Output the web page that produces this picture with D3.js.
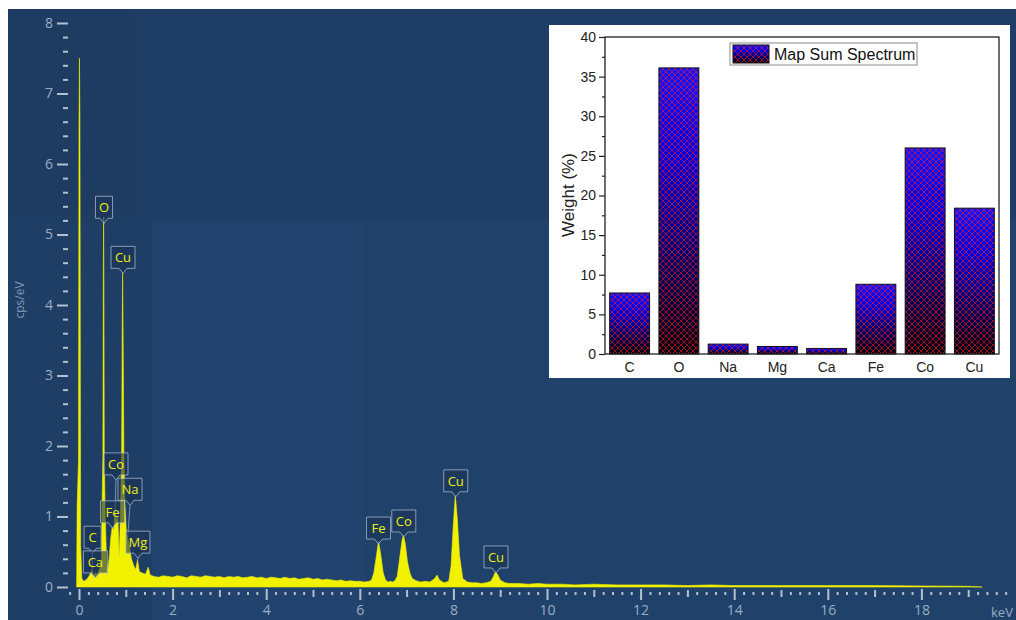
<!DOCTYPE html>
<html>
<head>
<meta charset="utf-8">
<script src="https://cdn.jsdelivr.net/npm/d3@7"></script>
<style>
  body { margin: 0; background: #fff; }
  svg { display: block; }
</style>
</head>
<body>
<svg id="chart" width="1016" height="620"></svg>
<script>
// EDS spectrum: [keV, cps/eV]
const spectrum = [
  [-0.05, 0], [-0.04, 1.15], [-0.01, 1.8], [0.0, 6.6], [0.01, 7.5], [0.02, 6.6], [0.035, 0.6],
  [0.06, 0.12], [0.1, 0.08], [0.15, 0.1], [0.2, 0.14], [0.25, 0.2], [0.28, 0.24], [0.31, 0.15],
  [0.35, 0.2], [0.4, 0.18], [0.45, 0.28], [0.48, 0.4], [0.49, 1.1], [0.51, 1.85], [0.52, 4.4],
  [0.526, 5.25], [0.532, 4.4], [0.54, 1.85], [0.56, 1.0], [0.59, 0.35], [0.62, 0.25], [0.65, 0.45],
  [0.68, 0.7], [0.71, 0.85], [0.74, 0.8], [0.77, 1.05], [0.8, 0.95], [0.83, 1.0], [0.86, 0.4],
  [0.88, 0.9], [0.91, 1.8], [0.925, 3.85], [0.932, 4.45], [0.94, 3.85], [0.96, 1.8], [0.98, 1.2],
  [1.01, 0.8], [1.04, 0.7], [1.08, 0.57], [1.12, 0.4], [1.17, 0.3], [1.21, 0.25], [1.25, 0.38],
  [1.29, 0.22], [1.35, 0.2], [1.42, 0.18], [1.48, 0.28], [1.52, 0.17], [1.6, 0.15], [1.7, 0.14],
  [1.8, 0.16], [1.9, 0.15], [2.0, 0.14], [2.1, 0.16], [2.2, 0.15], [2.3, 0.13], [2.4, 0.16],
  [2.5, 0.15], [2.6, 0.14], [2.7, 0.16], [2.8, 0.15], [2.9, 0.14], [3.0, 0.15], [3.1, 0.13],
  [3.2, 0.15], [3.3, 0.14], [3.4, 0.15], [3.5, 0.13], [3.6, 0.14], [3.7, 0.15], [3.8, 0.13],
  [3.9, 0.14], [4.0, 0.12], [4.1, 0.14], [4.2, 0.13], [4.3, 0.12], [4.4, 0.14], [4.5, 0.12],
  [4.6, 0.13], [4.7, 0.11], [4.8, 0.12], [4.9, 0.13], [5.0, 0.11], [5.1, 0.12], [5.2, 0.10],
  [5.3, 0.11], [5.4, 0.10], [5.5, 0.09], [5.6, 0.10], [5.7, 0.08], [5.8, 0.09], [5.9, 0.08],
  [6.0, 0.08], [6.1, 0.07], [6.2, 0.08], [6.25, 0.1], [6.3, 0.2], [6.35, 0.42], [6.4, 0.65],
  [6.45, 0.45], [6.5, 0.2], [6.55, 0.1], [6.6, 0.07], [6.65, 0.08], [6.7, 0.07], [6.75, 0.09],
  [6.8, 0.15], [6.85, 0.4], [6.9, 0.65], [6.93, 0.74], [6.97, 0.62], [7.02, 0.35], [7.07, 0.2],
  [7.12, 0.12], [7.2, 0.09], [7.3, 0.07], [7.4, 0.08], [7.5, 0.07], [7.6, 0.12], [7.65, 0.17],
  [7.7, 0.1], [7.8, 0.06], [7.9, 0.08], [7.95, 0.3], [8.0, 0.9], [8.04, 1.3], [8.08, 1.0],
  [8.13, 0.45], [8.2, 0.12], [8.3, 0.07], [8.4, 0.06], [8.5, 0.06], [8.6, 0.05], [8.7, 0.06],
  [8.8, 0.08], [8.85, 0.14], [8.9, 0.22], [8.95, 0.17], [9.0, 0.1], [9.1, 0.06], [9.2, 0.05],
  [9.4, 0.05], [9.6, 0.04], [9.8, 0.05], [10.0, 0.04], [10.3, 0.04], [10.6, 0.03], [11.0, 0.04],
  [11.5, 0.03], [12.0, 0.03], [12.5, 0.03], [13.0, 0.02], [13.5, 0.03], [14.0, 0.02], [15.0, 0.02],
  [16.0, 0.02], [17.0, 0.02], [18.0, 0.015], [19.0, 0.01], [19.3, 0]
];

// peak labels: element, peak keV, peak height, label keV, label bottom (cps/eV)
const peakNames  = ['O', 'Cu', 'Co', 'Na', 'Fe', 'C', 'Ca', 'Mg', 'Fe', 'Co', 'Cu', 'Cu'];
const peakKeV    = [0.526, 0.932, 0.77, 1.04, 0.71, 0.28, 0.35, 1.25, 6.4, 6.93, 8.04, 8.9];
const peakTop    = [5.25, 4.45, 1.05, 0.7, 0.85, 0.24, 0.2, 0.38, 0.65, 0.74, 1.3, 0.22];
const labelKeV   = [0.534, 0.94, 0.79, 1.09, 0.716, 0.29, 0.35, 1.26, 6.4, 6.94, 8.05, 8.91];
const labelBase  = [5.23, 4.52, 1.59, 1.23, 0.91, 0.55, 0.2, 0.48, 0.68, 0.78, 1.35, 0.27];

// inset bar chart
const elements = ['C', 'O', 'Na', 'Mg', 'Ca', 'Fe', 'Co', 'Cu'];
const weights  = [7.7, 36.1, 1.25, 0.95, 0.7, 8.8, 26.0, 18.4];
const weightTicks = [0, 5, 10, 15, 20, 25, 30, 35, 40];

const svg = d3.select('#chart');
const mainFont = '"Open Sans", "Noto Sans", sans-serif';
const insetFont = '"Liberation Sans", Arial, sans-serif';

// background panel
svg.append('rect').attr('x', 8).attr('y', 9).attr('width', 1008).attr('height', 611).attr('fill', '#1f3e65');
svg.append('rect').attr('x', 152).attr('y', 221).attr('width', 213).attr('height', 399).attr('fill', '#21436d');
svg.append('rect').attr('x', 365).attr('y', 221).attr('width', 651).attr('height', 399).attr('fill', '#20416a');
svg.append('rect').attr('x', 8).attr('y', 9).attr('width', 127).attr('height', 206).attr('fill', '#1e3c62');

let x = d3.scaleLinear().domain([0, 20]).range([79, 1015]);
let y = d3.scaleLinear().domain([0, 8]).range([587, 23]);

// y axis
let yTickVals = d3.range(0, 41).map(i => i / 5);
let yAxis = d3.axisLeft(y)
  .tickValues(yTickVals)
  .tickSize(0)
  .tickFormat(d => Number.isInteger(d) ? d : '');

let yg = svg.append('g').attr('transform', 'translate(68,0)').call(yAxis);
yg.select('.domain').remove();
yg.selectAll('.tick line')
  .attr('x1', 0)
  .attr('x2', d => Number.isInteger(d) ? -11 : -5)
  .attr('stroke', '#b3c0ce')
  .attr('stroke-width', 2);
yg.selectAll('.tick text')
  .attr('x', -15)
  .attr('fill', '#9aaec5')
  .style('font-family', mainFont)
  .style('font-size', '14px');

svg.append('text')
  .attr('transform', 'translate(24,300) rotate(-90)')
  .attr('text-anchor', 'middle')
  .attr('fill', '#8398b2')
  .style('font-family', mainFont)
  .style('font-size', '12px')
  .text('cps/eV');

// x axis: minor every 0.2, medium every 1, major every 2
let xTickVals = d3.range(-1, 100).map(i => i / 5);
let xAxis = d3.axisBottom(x)
  .tickValues(xTickVals)
  .tickSize(0)
  .tickFormat(d => (Number.isInteger(d) && d % 2 === 0 && d >= 0) ? d : '');

let xg = svg.append('g').attr('transform', 'translate(0,589)').call(xAxis);
xg.select('.domain').remove();
xg.selectAll('.tick line')
  .attr('y1', d => Number.isInteger(d) ? (d % 2 === 0 ? 0 : 1) : 3)
  .attr('y2', d => Number.isInteger(d) ? (d % 2 === 0 ? 11 : 8) : 6)
  .attr('stroke', '#b3c0ce')
  .attr('stroke-width', 2);
xg.selectAll('.tick text')
  .attr('y', 16)
  .attr('fill', '#9aaec5')
  .style('font-family', mainFont)
  .style('font-size', '14px');

svg.append('text')
  .attr('x', 991).attr('y', 617)
  .attr('fill', '#9aaec5')
  .style('font-family', mainFont)
  .style('font-size', '13px')
  .text('keV');

// spectrum
let area = d3.area()
  .x(d => x(d[0]))
  .y0(y(0))
  .y1(d => y(d[1]));

svg.append('path')
  .datum(spectrum)
  .attr('fill', '#f2f200')
  .attr('stroke', '#f2f200')
  .attr('stroke-width', 0.6)
  .attr('d', area);

// peak labels
let labels = peakNames.map((n, i) => ({
  name: n, e: peakKeV[i], top: peakTop[i], lx: labelKeV[i], lb: labelBase[i]
}));

let lab = svg.append('g').selectAll('g').data(labels).join('g');

lab.append('line')
  .attr('x1', d => x(d.lx))
  .attr('y1', d => y(d.lb) + 5)
  .attr('x2', d => x(d.e))
  .attr('y2', d => y(d.top))
  .attr('stroke', 'rgba(175,190,205,0.65)')
  .attr('stroke-width', 1);

lab.append('path')
  .attr('d', d => {
    let w = d.name.length > 1 ? 24 : 17;
    let cx = x(d.lx), b = y(d.lb);
    let l = cx - w / 2, r = cx + w / 2, t = b - 22;
    return `M${l},${t} H${r} V${b} H${cx + 4} L${cx},${b + 5} L${cx - 4},${b} H${l} Z`;
  })
  .attr('fill', 'rgba(28,52,86,0.6)')
  .attr('stroke', 'rgba(170,188,208,0.75)')
  .attr('stroke-width', 1)
  .attr('stroke-linejoin', 'round');

lab.append('text')
  .attr('x', d => x(d.lx))
  .attr('y', d => y(d.lb) - 6)
  .attr('text-anchor', 'middle')
  .attr('fill', '#eeee10')
  .style('font-family', mainFont)
  .style('font-size', '13px')
  .text(d => d.name);

// ---- inset bar chart ----
let defs = svg.append('defs');
let grad = defs.append('linearGradient').attr('id', 'barGrad')
  .attr('x1', 0).attr('y1', 0).attr('x2', 0).attr('y2', 1);
grad.append('stop').attr('offset', '0%').attr('stop-color', '#1414ff');
grad.append('stop').attr('offset', '30%').attr('stop-color', '#0000e6');
grad.append('stop').attr('offset', '70%').attr('stop-color', '#000060');
grad.append('stop').attr('offset', '100%').attr('stop-color', '#08000c');

let hatch = defs.append('pattern').attr('id', 'hatch')
  .attr('patternUnits', 'userSpaceOnUse')
  .attr('width', 6).attr('height', 6);
hatch.append('path')
  .attr('d', 'M0,0 L6,6 M6,0 L0,6')
  .attr('stroke', '#ff1a1a')
  .attr('stroke-width', 0.7)
  .attr('opacity', 0.85);

svg.append('rect')
  .attr('x', 549).attr('y', 25).attr('width', 461).attr('height', 353)
  .attr('fill', '#ffffff');

let xb = d3.scaleBand().domain(elements).range([605, 999]).paddingInner(0.19).paddingOuter(0.095);
let yb = d3.scaleLinear().domain([0, 40]).range([354, 37]);

let bars = svg.append('g').selectAll('g').data(elements).join('g');
bars.append('rect')
  .attr('x', d => xb(d))
  .attr('y', (d, i) => yb(weights[i]))
  .attr('width', xb.bandwidth())
  .attr('height', (d, i) => yb(0) - yb(weights[i]))
  .attr('fill', 'url(#barGrad)');
bars.append('rect')
  .attr('x', d => xb(d))
  .attr('y', (d, i) => yb(weights[i]))
  .attr('width', xb.bandwidth())
  .attr('height', (d, i) => yb(0) - yb(weights[i]))
  .attr('fill', 'url(#hatch)')
  .attr('stroke', '#111')
  .attr('stroke-width', 1);

// frame
svg.append('rect')
  .attr('x', 605).attr('y', 37).attr('width', 394).attr('height', 317)
  .attr('fill', 'none').attr('stroke', '#222').attr('stroke-width', 1.3);

let ybAxis = d3.axisLeft(yb)
  .tickValues(d3.range(0, 41, 2.5))
  .tickSize(0)
  .tickFormat(d => weightTicks.includes(d) ? d : '');
let ybg = svg.append('g').attr('transform', 'translate(605,0)').call(ybAxis);
ybg.select('.domain').remove();
ybg.selectAll('.tick line')
  .attr('x2', d => weightTicks.includes(d) ? -6 : -3)
  .attr('stroke', '#222').attr('stroke-width', 1.2);
ybg.selectAll('.tick text')
  .attr('x', -9)
  .attr('fill', '#222')
  .style('font-family', insetFont)
  .style('font-size', '14px');

let xbAxis = d3.axisBottom(xb).tickSize(0);
let xbg = svg.append('g').attr('transform', 'translate(0,354)').call(xbAxis);
xbg.select('.domain').remove();
xbg.selectAll('.tick text')
  .attr('y', 8)
  .attr('fill', '#222')
  .style('font-family', insetFont)
  .style('font-size', '14px');

svg.append('text')
  .attr('transform', 'translate(574,195) rotate(-90)')
  .attr('text-anchor', 'middle')
  .attr('fill', '#222')
  .style('font-family', insetFont)
  .style('font-size', '17px')
  .text('Weight (%)');

// legend
svg.append('rect')
  .attr('x', 730).attr('y', 43).attr('width', 187).attr('height', 22)
  .attr('fill', '#fff').attr('stroke', '#8a8a8a').attr('stroke-width', 1);
svg.append('rect')
  .attr('x', 733).attr('y', 45).attr('width', 36).attr('height', 18)
  .attr('fill', 'url(#barGrad)');
svg.append('rect')
  .attr('x', 733).attr('y', 45).attr('width', 36).attr('height', 18)
  .attr('fill', 'url(#hatch)').attr('stroke', '#111');
svg.append('text')
  .attr('x', 774).attr('y', 60)
  .attr('fill', '#111')
  .style('font-family', insetFont)
  .style('font-size', '16px')
  .text('Map Sum Spectrum');
</script>
</body>
</html>
